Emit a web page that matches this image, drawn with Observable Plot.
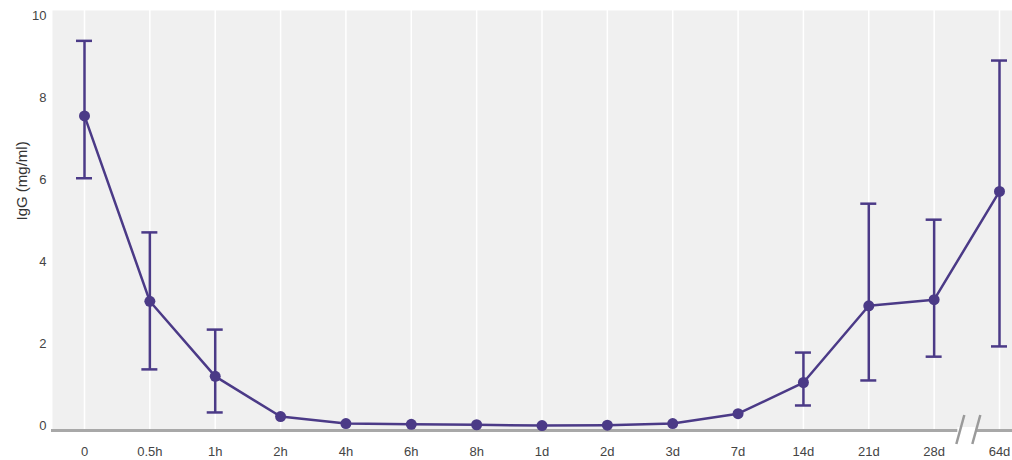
<!DOCTYPE html>
<html>
<head>
<meta charset="utf-8">
<script src="https://cdn.jsdelivr.net/npm/d3@7"></script>
<script src="https://cdn.jsdelivr.net/npm/@observablehq/plot@0.6"></script>
<style>
  html, body { margin: 0; padding: 0; background: #fff; }
  #chart svg { display: block; }
</style>
</head>
<body>
<div id="chart"></div>
<script>
// Serum IgG over time after treatment (mean with error bars)
const timepoints = ["0", "0.5h", "1h", "2h", "4h", "6h", "8h", "1d", "2d", "3d", "7d", "14d", "21d", "28d", "64d"];
const iggMean  = [7.55, 3.03, 1.20, 0.22, 0.05, 0.03, 0.02, 0.00, 0.01, 0.05, 0.29, 1.05, 2.92, 3.07, 5.71];
const iggUpper = [9.38, 4.71, 2.34, null, null, null, null, null, null, null, null, 1.78, 5.41, 5.02, 8.90];
const iggLower = [6.03, 1.37, 0.32, null, null, null, null, null, null, null, null, 0.49, 1.10, 1.68, 1.93];
const yTicks = [0, 2, 4, 6, 8, 10];
const yTitle = "IgG (mg/ml)";

const rows = timepoints.map((t, i) => ({t, mean: iggMean[i], hi: iggUpper[i], lo: iggLower[i]}));
const bars = rows.filter(d => d.hi != null);

const purple = "#4b3a87";
const yMin = -0.12, yMax = 10.12;

const chart = Plot.plot({
  width: 1012,
  height: 460,
  marginLeft: 52,
  marginRight: 0,
  marginTop: 10,
  marginBottom: 30,
  style: {fontFamily: "'Helvetica Neue', Helvetica, 'Liberation Sans', Arial, sans-serif", fontSize: "13px", color: "#444", background: "#fff"},
  x: {type: "point", domain: timepoints, range: [84, 999], padding: 0, round: false},
  y: {domain: [yMin, yMax]},
  marks: [
    Plot.frame({fill: "#f0f0f0", stroke: null}),
    Plot.gridX({stroke: "#fff", strokeOpacity: 1, strokeWidth: 1.5}),
    Plot.axisX({tickSize: 0, tickPadding: 16, label: null, fontSize: 13}),
    Plot.axisY(yTicks, {tickSize: 0, tickPadding: 6, label: null, fontSize: 13}),
    Plot.text([yTitle], {frameAnchor: "left", rotate: -90, dx: -30, fontSize: 15, fill: "#333"}),
    // baseline along the bottom of the plot area
    Plot.frame({anchor: "bottom", stroke: "#a8a8a8", strokeWidth: 3}),
    Plot.ruleX(bars, {x: "t", y1: "lo", y2: "hi", stroke: purple, strokeWidth: 2.5}),
    Plot.ruleY(bars, {x1: "t", x2: "t", y: "hi", stroke: purple, strokeWidth: 2.5, insetLeft: -8, insetRight: -8}),
    Plot.ruleY(bars, {x1: "t", x2: "t", y: "lo", stroke: purple, strokeWidth: 2.5, insetLeft: -8, insetRight: -8}),
    Plot.line(rows, {x: "t", y: "mean", stroke: purple, strokeWidth: 2.5}),
    Plot.dot(rows, {x: "t", y: "mean", fill: purple, r: 5.5})
  ]
});

// axis break glyph: a white gap in the baseline plus two slashes, midway between 28d and 64d
const svg = d3.select(chart);
const xs = chart.scale("x"), ys = chart.scale("y");
const xb = (xs.apply("28d") + xs.apply("64d")) / 2;
const yb = ys.apply(yMin);
const g = svg.append("g");
g.append("rect").attr("x", xb - 9).attr("y", yb - 3).attr("width", 18).attr("height", 6).attr("fill", "#fff");
for (const off of [-6, 10]) {
  g.append("line")
    .attr("x1", xb + off + 4).attr("y1", yb - 15)
    .attr("x2", xb + off - 4).attr("y2", yb + 14)
    .attr("stroke", "#9a9a9a").attr("stroke-width", 2.5);
}
document.getElementById("chart").append(chart);
</script>
</body>
</html>
